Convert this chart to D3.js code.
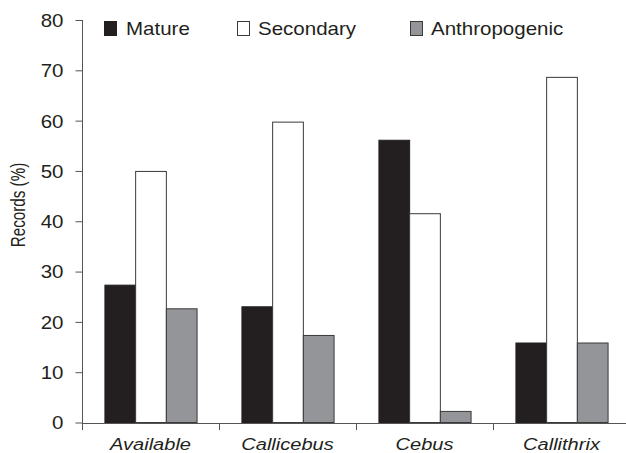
<!DOCTYPE html>
<html>
<head>
<meta charset="utf-8">
<script src="https://cdn.jsdelivr.net/npm/d3@7"></script>
<style>
  body { margin: 0; background: #fff; }
  svg { display: block; }
  text { font-family: "Liberation Sans", Arial, Helvetica, sans-serif; fill: #231f20; }
</style>
</head>
<body>
<div id="plotSect"></div>
<script>
/* global d3 */

// Chart data //
let categories = ["Available", "Callicebus", "Cebus", "Callithrix"];
let series = ["Mature", "Secondary", "Anthropogenic"];
let mature = [27.3, 23.0, 56.1, 15.8];
let secondary = [49.9, 59.7, 41.5, 68.6];
let anthropogenic = [22.6, 17.3, 2.2, 15.8];
let yTicks = [0, 10, 20, 30, 40, 50, 60, 70, 80];

let values = [mature, secondary, anthropogenic];
let fills = ["#231f20", "#ffffff", "#939598"];
let strokes = ["#231f20", "#3a3a3a", "#3a3a3a"];

// Initial chart setup //
let SVGwidth = 626,
    SVGheight = 453,
    stretch = 1.16; // source figure text is slightly wide

let svg = d3.select("#plotSect").append("svg")
    .attr("width", SVGwidth)
    .attr("height", SVGheight);

let xScale = d3.scaleBand().domain(categories).range([82, 630]).paddingInner(0).paddingOuter(0);
let xInner = d3.scaleBand().domain(series).range([0, xScale.bandwidth()]).paddingInner(0).paddingOuter(0.73);
let yScale = d3.scaleLinear().domain([0, 80]).range([422.5, 20]);

// bars
let groups = svg.selectAll(".group")
    .data(categories)
    .enter().append("g")
    .attr("class", "group")
    .attr("transform", function(d) { return "translate(" + xScale(d) + ",0)"; });

groups.selectAll("rect")
    .data(function(d, i) { return series.map(function(s, j) { return {s: s, j: j, v: values[j][i]}; }); })
    .enter().append("rect")
    .attr("x", function(d) { return xInner(d.s) + 0.5; })
    .attr("y", function(d) { return yScale(d.v); })
    .attr("width", xInner.bandwidth())
    .attr("height", function(d) { return yScale(0) - yScale(d.v); })
    .style("fill", function(d) { return fills[d.j]; })
    .style("stroke", function(d) { return strokes[d.j]; })
    .style("stroke-width", 1);

// y axis
let yAxis = d3.axisLeft(yScale).tickValues(yTicks).tickSize(7).tickPadding(11).tickSizeOuter(0);
let yG = svg.append("g")
    .attr("class", "yAxis")
    .attr("transform", "translate(82.5,0)")
    .call(yAxis);
yG.select(".domain").remove();
yG.append("line")
    .attr("x1", 0).attr("x2", 0)
    .attr("y1", yScale(80)).attr("y2", 430)
    .style("stroke", "#555");
yG.selectAll(".tick line").style("stroke", "#555");
yG.selectAll(".tick text")
    .style("font-size", "17.7px")
    .style("fill", "#231f20")
    .attr("x", -19 / stretch)
    .attr("dy", "0.36em")
    .attr("transform", "scale(" + stretch + ",1)");

// x axis
let xAxis = d3.axisBottom(xScale).tickSize(0).tickFormat("");
let xG = svg.append("g")
    .attr("class", "xAxis")
    .attr("transform", "translate(0," + (yScale(0) + 0.5) + ")")
    .call(xAxis);
xG.select(".domain").style("stroke", "#555");
xG.selectAll(".tick").remove();
xG.selectAll(".sep")
    .data(categories.slice(1))
    .enter().append("line")
    .attr("class", "sep")
    .attr("x1", function(d) { return xScale(d) + 0.5; })
    .attr("x2", function(d) { return xScale(d) + 0.5; })
    .attr("y1", 0).attr("y2", 7)
    .style("stroke", "#555");

// category labels
svg.selectAll(".catLabel")
    .data(categories)
    .enter().append("text")
    .attr("class", "catLabel")
    .attr("transform", function(d) {
        return "translate(" + (xScale(d) + xScale.bandwidth() / 2) + ",450) scale(" + stretch + ",1)";
    })
    .style("text-anchor", "middle")
    .style("font-style", "italic")
    .style("font-size", "17.3px")
    .text(function(d) { return d; });

// y label
svg.append("text")
    .attr("class", "axisLabel")
    .attr("transform", "translate(24.5,205) scale(1.35,1) rotate(-90)")
    .style("text-anchor", "middle")
    .style("font-size", "15.2px")
    .text("Records (%)");

// legend
let legendBoxX = [104, 237, 410];
let legendTextX = [126, 258, 431];
let legend = svg.selectAll(".legend")
    .data(series)
    .enter().append("g")
    .attr("class", "legend");

legend.append("rect")
    .attr("x", function(d, i) { return legendBoxX[i] + 0.5; })
    .attr("y", 21.5)
    .attr("width", 12)
    .attr("height", 14)
    .style("fill", function(d, i) { return fills[i]; })
    .style("stroke", function(d, i) { return strokes[i]; });

legend.append("text")
    .attr("transform", function(d, i) { return "translate(" + legendTextX[i] + ",34.5) scale(" + stretch + ",1)"; })
    .style("font-size", "17.7px")
    .text(function(d) { return d; });
</script>
</body>
</html>
